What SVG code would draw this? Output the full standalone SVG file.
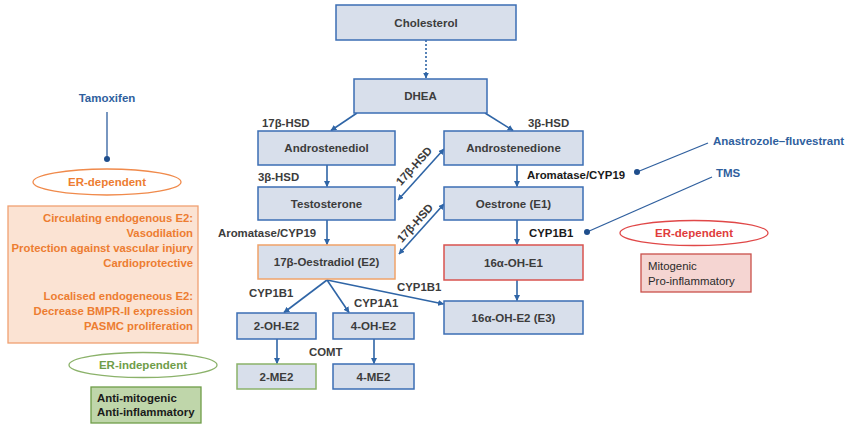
<svg xmlns="http://www.w3.org/2000/svg" width="849" height="425" viewBox="0 0 849 425">
<style>
text{font-family:"Liberation Sans",Arial,sans-serif;font-weight:bold;}
.box{fill:#d8dfeb;stroke:#3b6eb4;stroke-width:1.5;}
.bt{font-size:11.5px;fill:#3c3c3c;text-anchor:middle;}
.lbl{font-size:11.4px;fill:#3c3c3c;}
.lblk{font-size:11.4px;fill:#1a1a1a;}
.con{stroke:#2f65a6;stroke-width:1.6;fill:none;}
.drug{font-size:11.5px;fill:#2f5f9e;}
.dl{stroke:#2f5f9e;stroke-width:1.3;fill:none;}
.or{font-size:11.3px;fill:#ed7d31;text-anchor:end;}
</style>
<defs>
<marker id="ah" viewBox="0 0 10 10" refX="9" refY="5" markerWidth="6" markerHeight="6" markerUnits="userSpaceOnUse" orient="auto-start-reverse">
<path d="M0,0 L10,5 L0,10 z" fill="#2f65a6"/>
</marker>
</defs>
<rect width="849" height="425" fill="#ffffff"/>

<g id="connectors">
<line class="con" x1="426" y1="40" x2="426" y2="78" stroke-dasharray="2,2" marker-end="url(#ah)"/>
<line class="con" x1="357" y1="113" x2="331" y2="130.5" marker-end="url(#ah)"/>
<line class="con" x1="485" y1="113" x2="513" y2="130.5" marker-end="url(#ah)"/>
<line class="con" x1="327" y1="165" x2="327" y2="186.5" marker-end="url(#ah)"/>
<line class="con" x1="327" y1="220" x2="327" y2="244.5" marker-end="url(#ah)"/>
<line class="con" x1="517" y1="165" x2="517" y2="186.5" marker-end="url(#ah)"/>
<line class="con" x1="517" y1="220" x2="517" y2="244.5" marker-end="url(#ah)"/>
<line class="con" x1="517" y1="280" x2="517" y2="300.5" marker-end="url(#ah)"/>
<line class="con" x1="398" y1="200" x2="444" y2="149" marker-start="url(#ah)" marker-end="url(#ah)"/>
<line class="con" x1="399" y1="254" x2="444" y2="204" marker-start="url(#ah)" marker-end="url(#ah)"/>
<line class="con" x1="327" y1="280" x2="284" y2="312.5" marker-end="url(#ah)"/>
<line class="con" x1="327" y1="280" x2="349" y2="312.5" marker-end="url(#ah)"/>
<line class="con" x1="327" y1="280" x2="443.5" y2="304" marker-end="url(#ah)"/>
<line class="con" x1="277" y1="339" x2="277" y2="363.5" marker-end="url(#ah)"/>
<line class="con" x1="374" y1="339" x2="374" y2="363.5" marker-end="url(#ah)"/>
<line class="dl" x1="107" y1="112" x2="107" y2="159"/>
<circle cx="107" cy="159" r="3" fill="#1f4e8c"/>
<line class="dl" x1="708" y1="143" x2="637" y2="172"/>
<circle cx="637" cy="172" r="3" fill="#1f4e8c"/>
<line class="dl" x1="712" y1="177" x2="587" y2="232"/>
<circle cx="587" cy="232" r="3" fill="#1f4e8c"/>
</g>

<g id="labels">
<text class="lbl" x="262" y="127">17β-HSD</text>
<text class="lbl" x="258" y="181">3β-HSD</text>
<text class="lbl" x="218" y="237">Aromatase/CYP19</text>
<text class="lbl" x="528" y="127">3β-HSD</text>
<text class="lblk" x="527" y="179">Aromatase/CYP19</text>
<text class="lblk" x="529" y="237">CYP1B1</text>
<text class="lbl" x="414" y="166" text-anchor="middle" transform="rotate(-48 414 166)" dy="4">17β-HSD</text>
<text class="lbl" x="415" y="223" text-anchor="middle" transform="rotate(-48 415 223)" dy="4">17β-HSD</text>
<text class="lbl" x="249" y="297">CYP1B1</text>
<text class="lbl" x="354" y="307">CYP1A1</text>
<text class="lbl" x="397" y="291">CYP1B1</text>
<text class="lbl" x="309" y="356">COMT</text>
</g>

<g id="cholesterol"><rect class="box" x="336" y="5" width="180" height="35"/><text class="bt" x="426" y="26.5">Cholesterol</text></g>
<g id="dhea"><rect class="box" x="354" y="79" width="133" height="34"/><text class="bt" x="420.5" y="100">DHEA</text></g>
<g id="androstenediol"><rect class="box" x="258" y="131" width="137" height="34"/><text class="bt" x="326.5" y="152">Androstenediol</text></g>
<g id="testosterone"><rect class="box" x="258" y="187" width="137" height="33"/><text class="bt" x="326.5" y="207.5">Testosterone</text></g>
<g id="oestradiol"><rect class="box" x="258" y="245" width="137" height="34" style="stroke:#f0a36a"/><text class="bt" x="326.5" y="266">17β-Oestradiol (E2)</text></g>
<g id="androstenedione"><rect class="box" x="444" y="131" width="139" height="34"/><text class="bt" x="513.5" y="152">Androstenedione</text></g>
<g id="oestrone"><rect class="box" x="444" y="187" width="139" height="33"/><text class="bt" x="513.5" y="207.5">Oestrone (E1)</text></g>
<g id="oh-e1"><rect class="box" x="444" y="245" width="139" height="35" style="stroke:#d9534f"/><text class="bt" x="513.5" y="266.5">16α-OH-E1</text></g>
<g id="oh-e2-e3"><rect class="box" x="444" y="301" width="139" height="33"/><text class="bt" x="513.5" y="321.5">16α-OH-E2 (E3)</text></g>
<g id="oh2-e2"><rect class="box" x="237" y="313" width="79" height="26"/><text class="bt" x="276.5" y="330">2-OH-E2</text></g>
<g id="oh4-e2"><rect class="box" x="333" y="313" width="81" height="26"/><text class="bt" x="373.5" y="330">4-OH-E2</text></g>
<g id="me2-2"><rect class="box" x="237" y="364" width="79" height="25" style="stroke:#8bb26a"/><text class="bt" x="276.5" y="380.5">2-ME2</text></g>
<g id="me2-4"><rect class="box" x="333" y="364" width="81" height="25"/><text class="bt" x="373.5" y="380.5">4-ME2</text></g>

<g id="tamoxifen"><text class="drug" x="107" y="102" text-anchor="middle">Tamoxifen</text></g>
<g id="anastrozole"><text class="drug" x="713" y="145">Anastrozole–fluvestrant</text></g>
<g id="tms"><text class="drug" x="716" y="177">TMS</text></g>

<g id="er-dependent-left"><ellipse cx="107" cy="182" rx="74" ry="13" fill="#ffffff" stroke="#f08a4b" stroke-width="1.3"/><text x="107" y="186" text-anchor="middle" style="font-size:11.5px;fill:#ed7d31">ER-dependent</text></g>
<g id="orange-box">
<rect x="8" y="206" width="190" height="137" fill="#fbe3d3" stroke="#f0a071" stroke-width="1.3"/>
<text class="or" x="193" y="222">Circulating endogenous E2:</text>
<text class="or" x="193" y="237">Vasodilation</text>
<text class="or" x="193" y="252">Protection against vascular injury</text>
<text class="or" x="193" y="267">Cardioprotective</text>
<text class="or" x="193" y="300">Localised endogeneous E2:</text>
<text class="or" x="193" y="315">Decrease BMPR-II expression</text>
<text class="or" x="193" y="330">PASMC proliferation</text>
</g>
<g id="er-independent"><ellipse cx="143" cy="365" rx="74" ry="12.5" fill="#ffffff" stroke="#8bb26a" stroke-width="1.3"/><text x="143" y="369" text-anchor="middle" style="font-size:11.5px;fill:#6f9d49">ER-independent</text></g>
<g id="green-box"><rect x="91" y="387" width="110" height="36" fill="#bfd6aa" stroke="#6f9d49" stroke-width="1.3"/><text x="97" y="402" style="font-size:11.4px;fill:#1a1a1a">Anti-mitogenic</text><text x="97" y="416" style="font-size:11.4px;fill:#1a1a1a">Anti-inflammatory</text></g>
<g id="er-dependent-right"><ellipse cx="694" cy="233" rx="74" ry="12.5" fill="#ffffff" stroke="#e04848" stroke-width="1.3"/><text x="694" y="237" text-anchor="middle" style="font-size:11.5px;fill:#e03c3c">ER-dependent</text></g>
<g id="red-box"><rect x="641" y="254" width="110" height="38" fill="#f5d5d2" stroke="#c9504b" stroke-width="1.3"/><text x="648" y="270" style="font-size:11.4px;fill:#2a2a2a;font-weight:normal">Mitogenic</text><text x="648" y="285" style="font-size:11.4px;fill:#2a2a2a;font-weight:normal">Pro-inflammatory</text></g>
</svg>
